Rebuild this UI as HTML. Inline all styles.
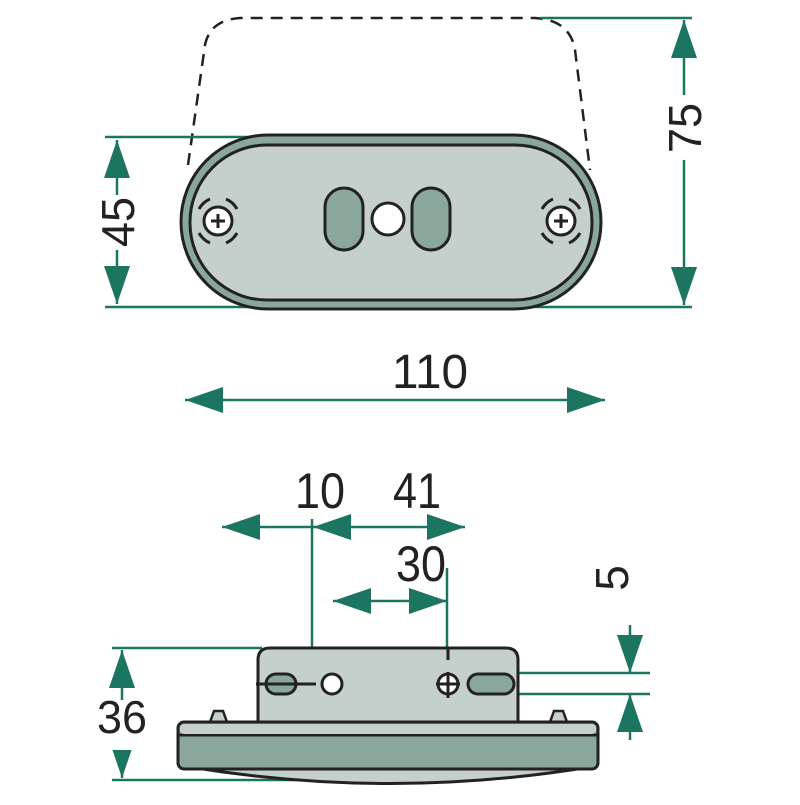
<!DOCTYPE html>
<html><head><meta charset="utf-8"><style>html,body{margin:0;padding:0;background:#fff}</style></head><body>
<svg width="800" height="800" viewBox="0 0 800 800" xmlns="http://www.w3.org/2000/svg" font-family="Liberation Sans, sans-serif" fill="#222">
<defs>
<marker id="a" viewBox="0 0 38 26" refX="38" refY="13" markerWidth="38" markerHeight="26" markerUnits="userSpaceOnUse" orient="auto"><path d="M0 0L38 13L0 26z" fill="#1b7560"/></marker>
<marker id="b" viewBox="0 0 38 26" refX="0" refY="13" markerWidth="38" markerHeight="26" markerUnits="userSpaceOnUse" orient="auto"><path d="M38 0L0 13L38 26z" fill="#1b7560"/></marker>
</defs>
<path d="M188 165 L205 45 Q210 20 240 18 L535 18 Q570 20 575 50 L590 170" fill="none" stroke="#222" stroke-width="2.5" stroke-dasharray="12 8"/>
<g stroke="#1b7560" stroke-width="2.5" fill="none">
<line x1="105" y1="137" x2="250" y2="137"/><line x1="105" y1="307" x2="250" y2="307"/>
<line x1="540" y1="18" x2="692" y2="18"/><line x1="520" y1="307" x2="692" y2="307"/>
<line x1="117" y1="140" x2="117" y2="304" marker-start="url(#b)" marker-end="url(#a)"/>
<line x1="684" y1="20" x2="684" y2="305" marker-start="url(#b)" marker-end="url(#a)"/>
<line x1="185" y1="400" x2="605" y2="400" marker-start="url(#b)" marker-end="url(#a)"/>
</g>
<rect x="110" y="195" width="16" height="55" fill="#fff"/>
<rect x="676" y="95" width="16" height="65" fill="#fff"/>
<rect x="385" y="360" width="90" height="30" fill="#fff"/>
<text transform="translate(134,222) rotate(-90)" font-size="46" text-anchor="middle" textLength="50" lengthAdjust="spacingAndGlyphs">45</text>
<text transform="translate(701,128) rotate(-90)" font-size="46" text-anchor="middle" textLength="50" lengthAdjust="spacingAndGlyphs">75</text>
<text x="430" y="388" font-size="48" text-anchor="middle" textLength="76" lengthAdjust="spacingAndGlyphs">110</text>
<rect x="181" y="135" width="420" height="174" rx="87" fill="#8aa79c" stroke="#222" stroke-width="3"/>
<rect x="190" y="145" width="402" height="155" rx="77" fill="#c5cfcb" stroke="#222" stroke-width="3"/>
<rect x="325" y="188" width="38" height="62" rx="19" fill="#8aa79c" stroke="#222" stroke-width="3"/>
<rect x="412" y="188" width="38" height="62" rx="19" fill="#8aa79c" stroke="#222" stroke-width="3"/>
<circle cx="388" cy="219" r="16" fill="#fff" stroke="#222" stroke-width="3"/>
<g stroke="#222" stroke-width="3" fill="none">
<circle cx="218" cy="221" r="14" fill="#fff"/><path d="M211 221h14M218 214v14"/>
<path d="M199 209a23 23 0 0 1 11-10M237 209a23 23 0 0 0-11-10M199 233a23 23 0 0 0 11 10M237 233a23 23 0 0 1-11 10"/>
<circle cx="561" cy="221" r="14" fill="#fff"/><path d="M554 221h14M561 214v14"/>
<path d="M542 209a23 23 0 0 1 11-10M580 209a23 23 0 0 0-11-10M542 233a23 23 0 0 0 11 10M580 233a23 23 0 0 1-11 10"/>
</g>
<g stroke="#1b7560" stroke-width="2.5" fill="none">
<line x1="312" y1="519" x2="312" y2="690"/>
<line x1="447" y1="568" x2="447" y2="660"/>
<line x1="222" y1="527" x2="312" y2="527" marker-start="url(#b)"/>
<line x1="313" y1="527" x2="465" y2="527" marker-start="url(#b)" marker-end="url(#a)"/>
<line x1="333" y1="601" x2="447" y2="601" marker-start="url(#b)" marker-end="url(#a)"/>
<line x1="112" y1="648" x2="262" y2="648"/><line x1="112" y1="780" x2="300" y2="780"/>
<line x1="122" y1="650" x2="122" y2="778" marker-start="url(#b)" marker-end="url(#a)"/>
<line x1="515" y1="673" x2="650" y2="673"/><line x1="515" y1="694" x2="650" y2="694"/>
<line x1="630" y1="625" x2="630" y2="673" marker-end="url(#a)"/>
<line x1="630" y1="740" x2="630" y2="694" marker-end="url(#a)"/>
</g>
<rect x="100" y="700" width="45" height="50" fill="#fff"/>
<text x="122" y="733" font-size="46" text-anchor="middle" textLength="50" lengthAdjust="spacingAndGlyphs">36</text>
<text x="320" y="508" font-size="50" text-anchor="middle" textLength="50" lengthAdjust="spacingAndGlyphs">10</text>
<text x="417" y="508" font-size="50" text-anchor="middle" textLength="48" lengthAdjust="spacingAndGlyphs">41</text>
<text x="421" y="581" font-size="50" text-anchor="middle" textLength="50" lengthAdjust="spacingAndGlyphs">30</text>
<text transform="translate(628,578) rotate(-90)" font-size="46" text-anchor="middle">5</text>
<path d="M258 722 V660 Q258 648 270 648 H506 Q518 648 518 660 V722 Z" fill="#c5cfcb" stroke="#222" stroke-width="3"/>
<path d="M210 722 L214 711 H223 L227 722 Z M550 722 L554 711 H563 L567 722 Z" fill="#c5cfcb" stroke="#222" stroke-width="2.5"/>
<path d="M190 767 Q390 800 590 767 Z" fill="#c5cfcb" stroke="#222" stroke-width="3"/>
<rect x="178" y="722" width="420" height="47" rx="6" fill="#8aa79c" stroke="#222" stroke-width="3"/>
<path d="M178 735 H598" stroke="#222" stroke-width="3"/>
<rect x="180" y="724" width="416" height="10" rx="4" fill="#c5cfcb"/>
<g stroke="#222" stroke-width="3">
<rect x="266" y="674" width="30" height="20" rx="10" fill="#8aa79c"/>
<rect x="468" y="674" width="46" height="20" rx="10" fill="#8aa79c"/>
<circle cx="332" cy="684" r="10" fill="#fff"/>
<circle cx="448" cy="684" r="10" fill="#fff"/>
<path d="M256 684h60M436 684h24M448 672v26M448 648v12" fill="none"/>
</g>
</svg>
</body></html>
